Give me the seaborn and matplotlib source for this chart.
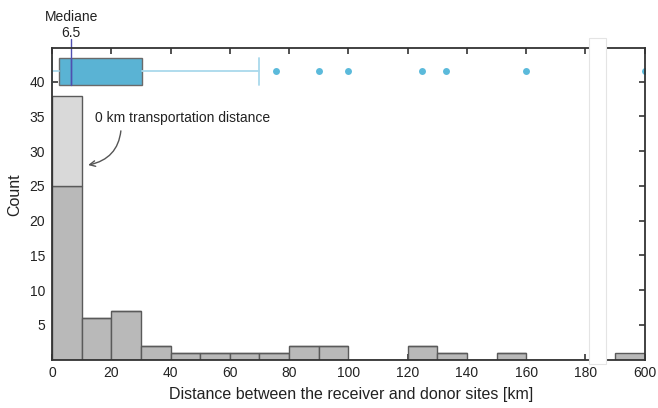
import numpy as np
import pandas as pd
import matplotlib
matplotlib.use("Agg")
import matplotlib.pyplot as plt
import seaborn as sns
from matplotlib.patches import Rectangle

# histogram: 10 km bins, counts
bin_left = [0, 10, 20, 30, 40, 50, 60, 70, 80, 90, 100, 110, 120, 130, 140, 150, 160, 170]
bin_count = [25, 6, 7, 2, 1, 1, 1, 1, 2, 2, 0, 0, 2, 1, 0, 1, 0, 0]
zero_km_count = 13          # extra sites in the first bin with 0 km distance
far_bin_left = [590]
far_bin_count = [1]

# box plot summary
box_q1, box_med, box_q3 = 2.2, 6.5, 30.4
whisk_lo, whisk_hi = 0, 70
outliers = [75.5, 90, 100, 125, 133, 160, 600]

x_ticks = [0, 20, 40, 60, 80, 100, 120, 140, 160, 180]
y_ticks = [5, 10, 15, 20, 25, 30, 35, 40]

sns.set_style("ticks")
plt.rcParams['font.family'] = ['Liberation Sans', 'DejaVu Sans']

W, H = 658, 408
def rect(x0, y0, x1, y1):
    return [x0 / W, 1 - y1 / H, (x1 - x0) / W, (y1 - y0) / H]

fig = plt.figure(figsize=(W / 100, H / 100), dpi=100)
ax = fig.add_axes(rect(52, 47.7, 589, 359.5))
ax2 = fig.add_axes(rect(606, 47.7, 645, 359.5))

dark, light, edge = '#b9b9b9', '#d9d9d9', '#5a5a5a'
df = pd.DataFrame({
    'distance': [b + 5 for b in bin_left] + [bin_left[0] + 5],
    'n': bin_count + [zero_km_count],
    'group': ['transported'] * len(bin_left) + ['0 km'],
})
edges = bin_left + [bin_left[-1] + 10]
sns.histplot(data=df, x='distance', weights='n', hue='group', hue_order=['0 km', 'transported'],
             multiple='stack', bins=edges, palette={'0 km': light, 'transported': dark},
             alpha=1, edgecolor=edge, linewidth=1, legend=False, ax=ax)

far = pd.DataFrame({'distance': [b + 5 for b in far_bin_left], 'n': far_bin_count})
sns.histplot(data=far, x='distance', weights='n', bins=[590, 600], color=dark,
             alpha=1, edgecolor=edge, linewidth=1, ax=ax2)

# box plot on top of the histogram
stats = [dict(med=box_med, q1=box_q1, q3=box_q3, whislo=whisk_lo, whishi=whisk_hi,
              fliers=outliers)]
box_y, box_h = 41.5, 3.9
for a in (ax, ax2):
    a.bxp(stats, positions=[box_y], widths=box_h, orientation='horizontal',
          patch_artist=True, manage_ticks=False,
          boxprops=dict(facecolor='#5ab3d4', edgecolor='#6a6a6a', linewidth=1),
          whiskerprops=dict(color='#a9d9ec', linewidth=1.3),
          capprops=dict(color='#a9d9ec', linewidth=1.3),
          capwidths=box_h,
          medianprops=dict(color='#4f4fb0', linewidth=1),
          flierprops=dict(marker='o', markerfacecolor='#5bbadb', markeredgecolor='none',
                          markersize=5))

ylim = (0, 44.9)
ax.plot([box_med, box_med], [box_y - box_h / 2, 46.2], color='#4f4fb0', lw=1, clip_on=False)
ax.annotate('Mediane\n6.5', xy=(box_med, 1.073), xycoords=('data', 'axes fraction'),
            ha='center', va='center', fontsize=10, color='#222222', linespacing=1.25,
            annotation_clip=False)

ax.annotate('0 km transportation distance', xy=(12.2, 28), xytext=(14.5, 34.8),
            ha='left', va='center', fontsize=10, color='#222222',
            arrowprops=dict(arrowstyle='->', color='#555555', lw=1,
                            connectionstyle='arc3,rad=-0.4', shrinkA=2, shrinkB=0,
                            relpos=(0.15, 0)))

ax.set_xlim(0, 181.2)
ax2.set_xlim(587, 600)
for a in (ax, ax2):
    a.set_ylim(*ylim)
    a.set_yticks(y_ticks)
    for s in a.spines.values():
        s.set_color('#333333')
        s.set_linewidth(1.3)
    a.set_xlabel('')
    a.set_ylabel('')
ax.set_xticks(x_ticks)
ax2.set_xticks([600])
ax.spines['right'].set_visible(False)
ax2.spines['left'].set_visible(False)
ax.tick_params(direction='in', top=True, right=False, length=4, width=1.2,
               colors='#333333', labelcolor='#222222', labelsize=10, pad=5)
ax2.tick_params(direction='in', top=True, left=False, right=True, labelleft=False,
                length=4, width=1.2, colors='#333333', labelcolor='#222222',
                labelsize=10, pad=5)

ax.set_ylabel('Count', fontsize=11.5, color='#222222')
ax.yaxis.set_label_coords((22 - 52) / 537, (359.5 - 195) / 311.8)
ax.set_xlabel('Distance between the receiver and donor sites [km]', fontsize=11.5, color='#222222')
ax.xaxis.set_label_coords((351 - 52) / 537, -(387 - 359.5) / 311.8)

# axis break
fig.patches.append(Rectangle((589 / W, 1 - 364 / H), (606 - 589) / W, (364 - 38) / H,
                             transform=fig.transFigure, facecolor='white',
                             edgecolor='#e4e4e4', linewidth=0.8))

fig.savefig('out.png', dpi=100)
